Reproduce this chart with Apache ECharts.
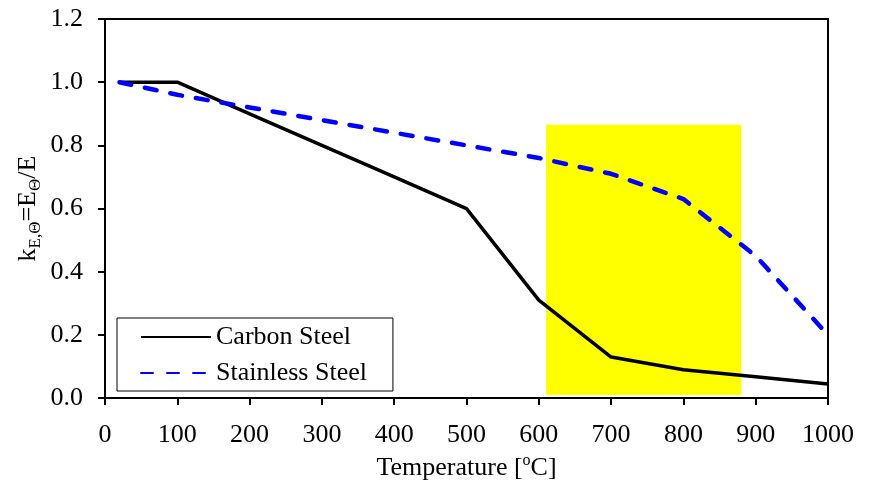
<!DOCTYPE html>
<html>
<head>
<meta charset="utf-8">
<script src="https://cdn.jsdelivr.net/npm/echarts@6/dist/echarts.min.js"></script>
<style>
  html, body { margin: 0; padding: 0; background: #fff; }
  #chart { width: 870px; height: 486px; }
</style>
</head>
<body>
<div id="chart"></div>
<script>
// Reduction factor of elastic modulus with temperature
const temperatures = [20, 100, 200, 300, 400, 500, 600, 700, 800, 900, 1000];
const carbonSteel = [1.0, 1.0, 0.9, 0.8, 0.7, 0.6, 0.31, 0.13, 0.09, 0.0675, 0.045];
const stainlessSteel = [1.0, 0.96, 0.92, 0.88, 0.84, 0.80, 0.76, 0.71, 0.63, 0.45, 0.20];
// Highlighted temperature band [x0, y0] -> [x1, y1]
const bandStart = [610, 0.01];
const bandEnd = [880, 0.865];

const FONT = '"Liberation Serif", "Times New Roman", serif';
const FS = 26;

const chart = echarts.init(document.getElementById('chart'), null, { renderer: 'canvas' });

chart.setOption({
  animation: false,
  backgroundColor: '#ffffff',
  textStyle: { fontFamily: FONT, color: '#000' },
  grid: {
    left: 105, right: 42, top: 19, bottom: 85.5,
    show: true, borderColor: '#000', borderWidth: 2, backgroundColor: 'transparent'
  },
  legend: {
    left: 117, top: 318,
    orient: 'vertical',
    padding: [6, 26, 5, 23],
    itemGap: 10,
    itemWidth: 70,
    itemHeight: 24,
    itemTextGap: 7,
    borderColor: '#000',
    borderWidth: 1,
    backgroundColor: '#fff',
    itemStyle: { opacity: 0, borderWidth: 0 },
    textStyle: { fontFamily: FONT, fontSize: FS, color: '#000', lineHeight: 24 },
    data: ['Carbon Steel', 'Stainless Steel']
  },
  xAxis: {
    type: 'value', min: 0, max: 1000, interval: 100,
    name: '{a|Temperature [}{sup|o}{a|C]}',
    nameLocation: 'middle', nameGap: 49,
    nameTextStyle: {
      rich: {
        a: { fontFamily: FONT, fontSize: FS, color: '#000', lineHeight: 30 },
        sup: { fontFamily: FONT, fontSize: 16, color: '#000', verticalAlign: 'top', lineHeight: 30 }
      }
    },
    axisLine: { lineStyle: { color: '#000', width: 2 } },
    axisTick: { inside: false, length: 7, lineStyle: { color: '#000', width: 2 } },
    axisLabel: { fontFamily: FONT, fontSize: FS, color: '#000', margin: 24, formatter: v => String(v) },
    splitLine: { show: false }
  },
  yAxis: {
    type: 'value', min: 0, max: 1.2, interval: 0.2,
    name: '{k|k}{sub|E,Θ}{k|=E}{sub|Θ}{k|/E}',
    nameLocation: 'middle', nameGap: 61, nameRotate: 90,
    nameMoveOverlap: false,
    nameTextStyle: {
      rich: {
        k: { fontFamily: FONT, fontSize: FS, color: '#000', lineHeight: 32 },
        sub: { fontFamily: FONT, fontSize: 17, color: '#000', verticalAlign: 'bottom', lineHeight: 32 }
      }
    },
    axisLine: { lineStyle: { color: '#000', width: 2 } },
    axisTick: { inside: false, length: 7, lineStyle: { color: '#000', width: 2 } },
    axisLabel: {
      fontFamily: FONT, fontSize: FS, color: '#000', margin: 22,
      formatter: v => v.toFixed(1)
    },
    splitLine: { show: false }
  },
  series: [
    {
      name: 'Carbon Steel',
      type: 'line',
      data: temperatures.map((t, i) => [t, carbonSteel[i]]),
      symbol: 'none',
      z: 3,
      lineStyle: { color: '#000', width: 3.5 },
      itemStyle: { color: '#000' },
      markArea: {
        silent: true,
        itemStyle: { color: '#ffff00', opacity: 1 },
        data: [[{ coord: bandStart }, { coord: bandEnd }]]
      }
    },
    {
      name: 'Stainless Steel',
      type: 'line',
      data: temperatures.map((t, i) => [t, stainlessSteel[i]]),
      symbol: 'none',
      z: 4,
      lineStyle: { color: '#0000ff', width: 4.5, type: [12, 14], cap: 'round' },
      itemStyle: { color: '#0000ff' }
    }
  ]
});
</script>
</body>
</html>
